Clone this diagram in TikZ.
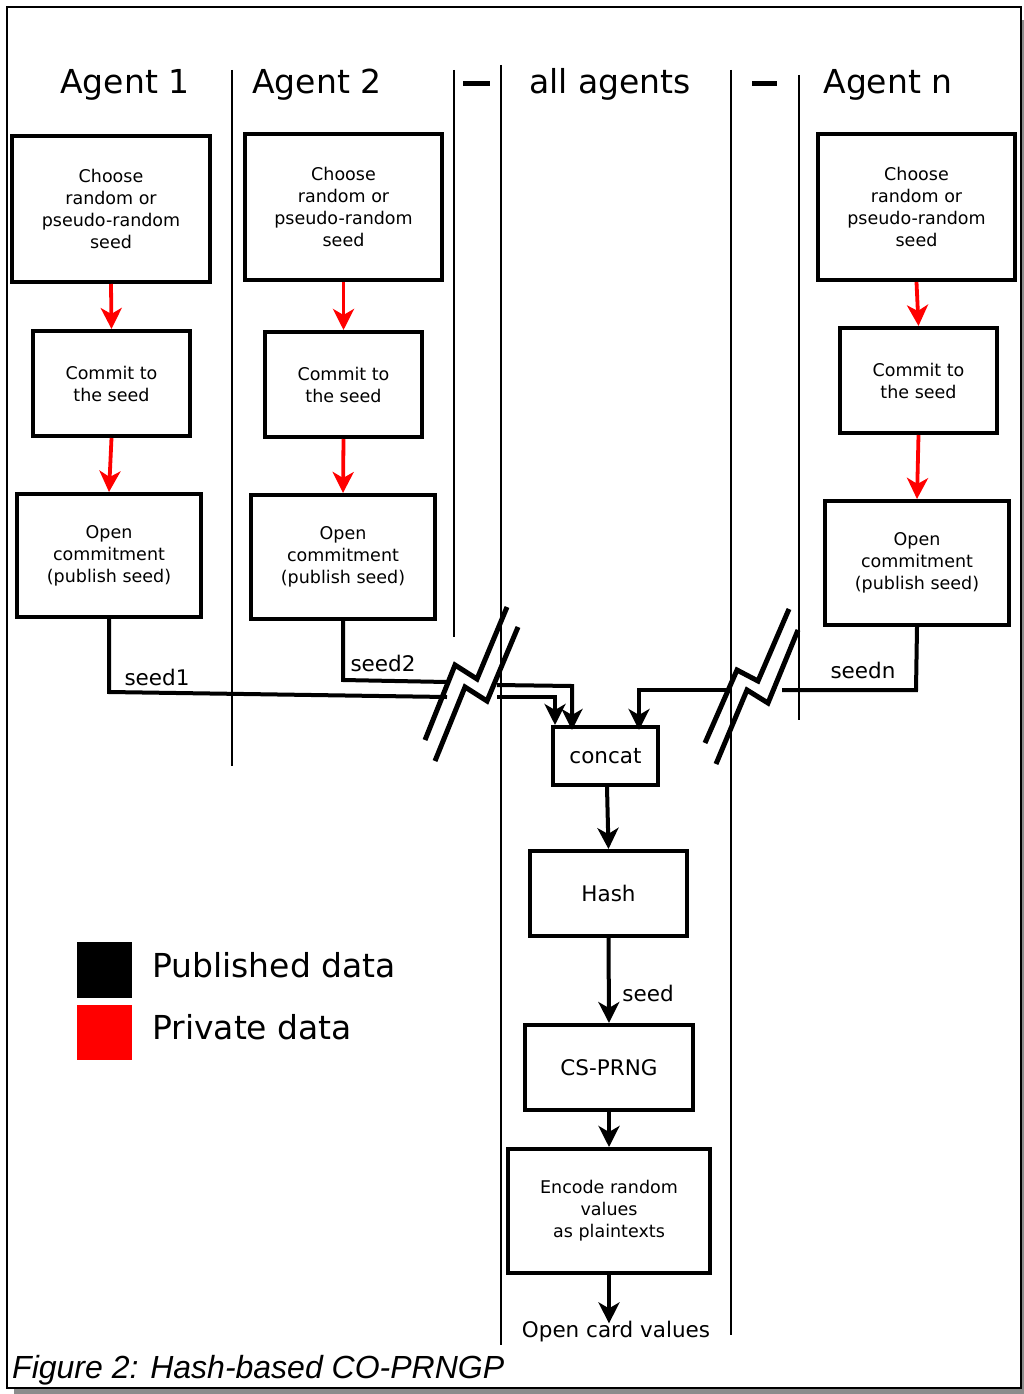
\documentclass[tikz,border=0pt]{standalone}
\usepackage{fontspec}
\setmainfont{DejaVu Sans}
\newfontfamily\capfont{Liberation Sans}
\usetikzlibrary{arrows.meta}
\definecolor{pred}{RGB}{255,0,0}
\begin{document}
\begin{tikzpicture}[x=1pt,y=-1pt,
  box/.style={draw,line width=4pt,align=center,inner sep=0pt,
    font=\fontsize{17.5}{22}\selectfont},
  title/.style={anchor=base,font=\fontsize{33}{40}\selectfont},
  lane/.style={line width=2.2pt},
  redarrow/.style={draw=pred,line width=3.8pt,-{Stealth[length=21pt,width=21pt,inset=6pt]}},
  blkarrow/.style={line width=4pt,-{Stealth[length=21pt,width=21pt,inset=6pt]}},
  blk/.style={line width=4pt},
  brk/.style={line width=5pt},
  lbl/.style={font=\fontsize{21.5}{26}\selectfont,inner sep=0pt}]
\useasboundingbox (0,0) rectangle (1024,1394);
% frame + shadow
\fill[gray!90] (1021,20) rectangle (1024,1394);
\fill[gray!90] (14,1388) rectangle (1024,1394);
\draw[line width=1.2pt] (7,7) rectangle (1021,1388);

% lanes
\draw[lane] (232,70) -- (232,766);
\draw[lane] (454,70) -- (454,637);
\draw[lane] (501,65) -- (501,1345);
\draw[lane] (731,70) -- (731,1335);
\draw[lane] (799,75) -- (799,720);
\draw[line width=5pt] (463,84) -- (490,84);
\draw[line width=5pt] (752,84) -- (777,84);

% titles
\node[title] (t1) at (125,94) {Agent 1};
\node[title] (t2) at (317,94) {Agent 2};
\node[title] (ta) at (610,94) {all agents};
\node[title] (tn) at (888,94) {Agent n};

% agent 1
\node[box,minimum width=198pt,minimum height=146pt] (c1) at (111,209) {Choose\\random or\\pseudo-random\\seed};
\node[box,minimum width=157pt,minimum height=105pt] (m1) at (111.5,383.5) {Commit to\\the seed};
\node[box,minimum width=184pt,minimum height=123pt] (o1) at (109,555.5) {Open\\commitment\\(publish seed)};
% agent 2
\node[box,minimum width=197pt,minimum height=146pt] (c2) at (343.5,207) {Choose\\random or\\pseudo-random\\seed};
\node[box,minimum width=157pt,minimum height=105pt] (m2) at (343.5,384.5) {Commit to\\the seed};
\node[box,minimum width=184pt,minimum height=124pt] (o2) at (343,557) {Open\\commitment\\(publish seed)};
% agent n
\node[box,minimum width=197pt,minimum height=146pt] (cn) at (916.5,207) {Choose\\random or\\pseudo-random\\seed};
\node[box,minimum width=157pt,minimum height=105pt] (mn) at (918.5,380.5) {Commit to\\the seed};
\node[box,minimum width=184pt,minimum height=124pt] (on) at (917,563) {Open\\commitment\\(publish seed)};

% red arrows
\draw[redarrow] (c1.south) -- (m1.north);
\draw[redarrow] (m1.south) -- (o1.north);
\draw[redarrow] (c2.south) -- (m2.north);
\draw[redarrow] (m2.south) -- (o2.north);
\draw[redarrow] (cn.south) -- (mn.north);
\draw[redarrow] (mn.south) -- (on.north);

% central chain
\node[box,minimum width=105pt,minimum height=58pt,font=\fontsize{21.5}{26}\selectfont] (cc) at (605.5,756) {concat};
\node[box,minimum width=157pt,minimum height=85pt,font=\fontsize{21.5}{26}\selectfont] (hs) at (608.5,893.5) {Hash};
\node[box,minimum width=168pt,minimum height=85pt,font=\fontsize{21.5}{26}\selectfont] (pr) at (609,1067.5) {CS-PRNG};
\node[box,minimum width=202pt,minimum height=124pt] (en) at (609,1211) {Encode random\\values\\as plaintexts};
\node[lbl] (ov) at (616,1332) {Open card values};

\draw[blkarrow] (607,787) -- (hs.north);
\draw[blkarrow] (hs.south) -- (pr.north);
\draw[blkarrow] (pr.south) -- (en.north);
\draw[blkarrow] (en.south) -- ([yshift=-2pt]en.south |- ov.north);
\node[lbl] (sd) at (648,993) {seed};

% seed connectors with breaks
\coordinate (s1a) at (447,697);
\coordinate (s1b) at (497,697);
\coordinate (s1c) at (555,697);
\draw[blk] (o1.south) -- (109,692) -- (s1a);
\draw[blkarrow] (s1b) -- (s1c) -- (cc.north -| s1c);

\coordinate (s2a) at (447,682);
\coordinate (s2b) at (497,685);
\coordinate (s2c) at (572,686);
\draw[blk] (o2.south) -- (343,680) -- (s2a);
\draw[blkarrow] (s2b) -- (s2c) -- ([yshift=-5pt]cc.north -| s2c);

\coordinate (sna) at (782,690);
\coordinate (snb) at (732,690);
\coordinate (snc) at (639,690);
\draw[blk] (on.south) -- (916,690) -- (sna);
\draw[blkarrow] (snb) -- (snc) -- ([yshift=-5pt]cc.north -| snc);

\node[lbl] (l1) at (157,677) {seed1};
\node[lbl] (l2) at (383,663) {seed2};
\node[lbl] (ln) at (863,670) {seedn};

% break symbols
\draw[brk] (425,740) -- (455,665) -- (477,679) -- (507,607);
\draw[brk] (435,761) -- (465,687) -- (487,701) -- (518,627);
\draw[brk] (705,743) -- (737,670) -- (758,681) -- (789,609);
\draw[brk] (716,764) -- (747,690) -- (768,703) -- (798,630);

% legend
\fill[black] (77,942) rectangle (132,998);
\fill[pred] (77,1005) rectangle (132,1060);
\node[anchor=base west,inner sep=0pt,font=\fontsize{33}{40}\selectfont] (lp) at (152,977) {Published data};
\node[anchor=base west,inner sep=0pt,font=\fontsize{33}{40}\selectfont] (lq) at (152,1039) {Private data};

% caption
\node[anchor=base west,inner sep=0pt,font=\capfont\itshape\fontsize{32}{38}\selectfont] (cap) at (12,1378) {Figure 2: Hash-based CO-PRNGP};
\end{tikzpicture}
\end{document}
